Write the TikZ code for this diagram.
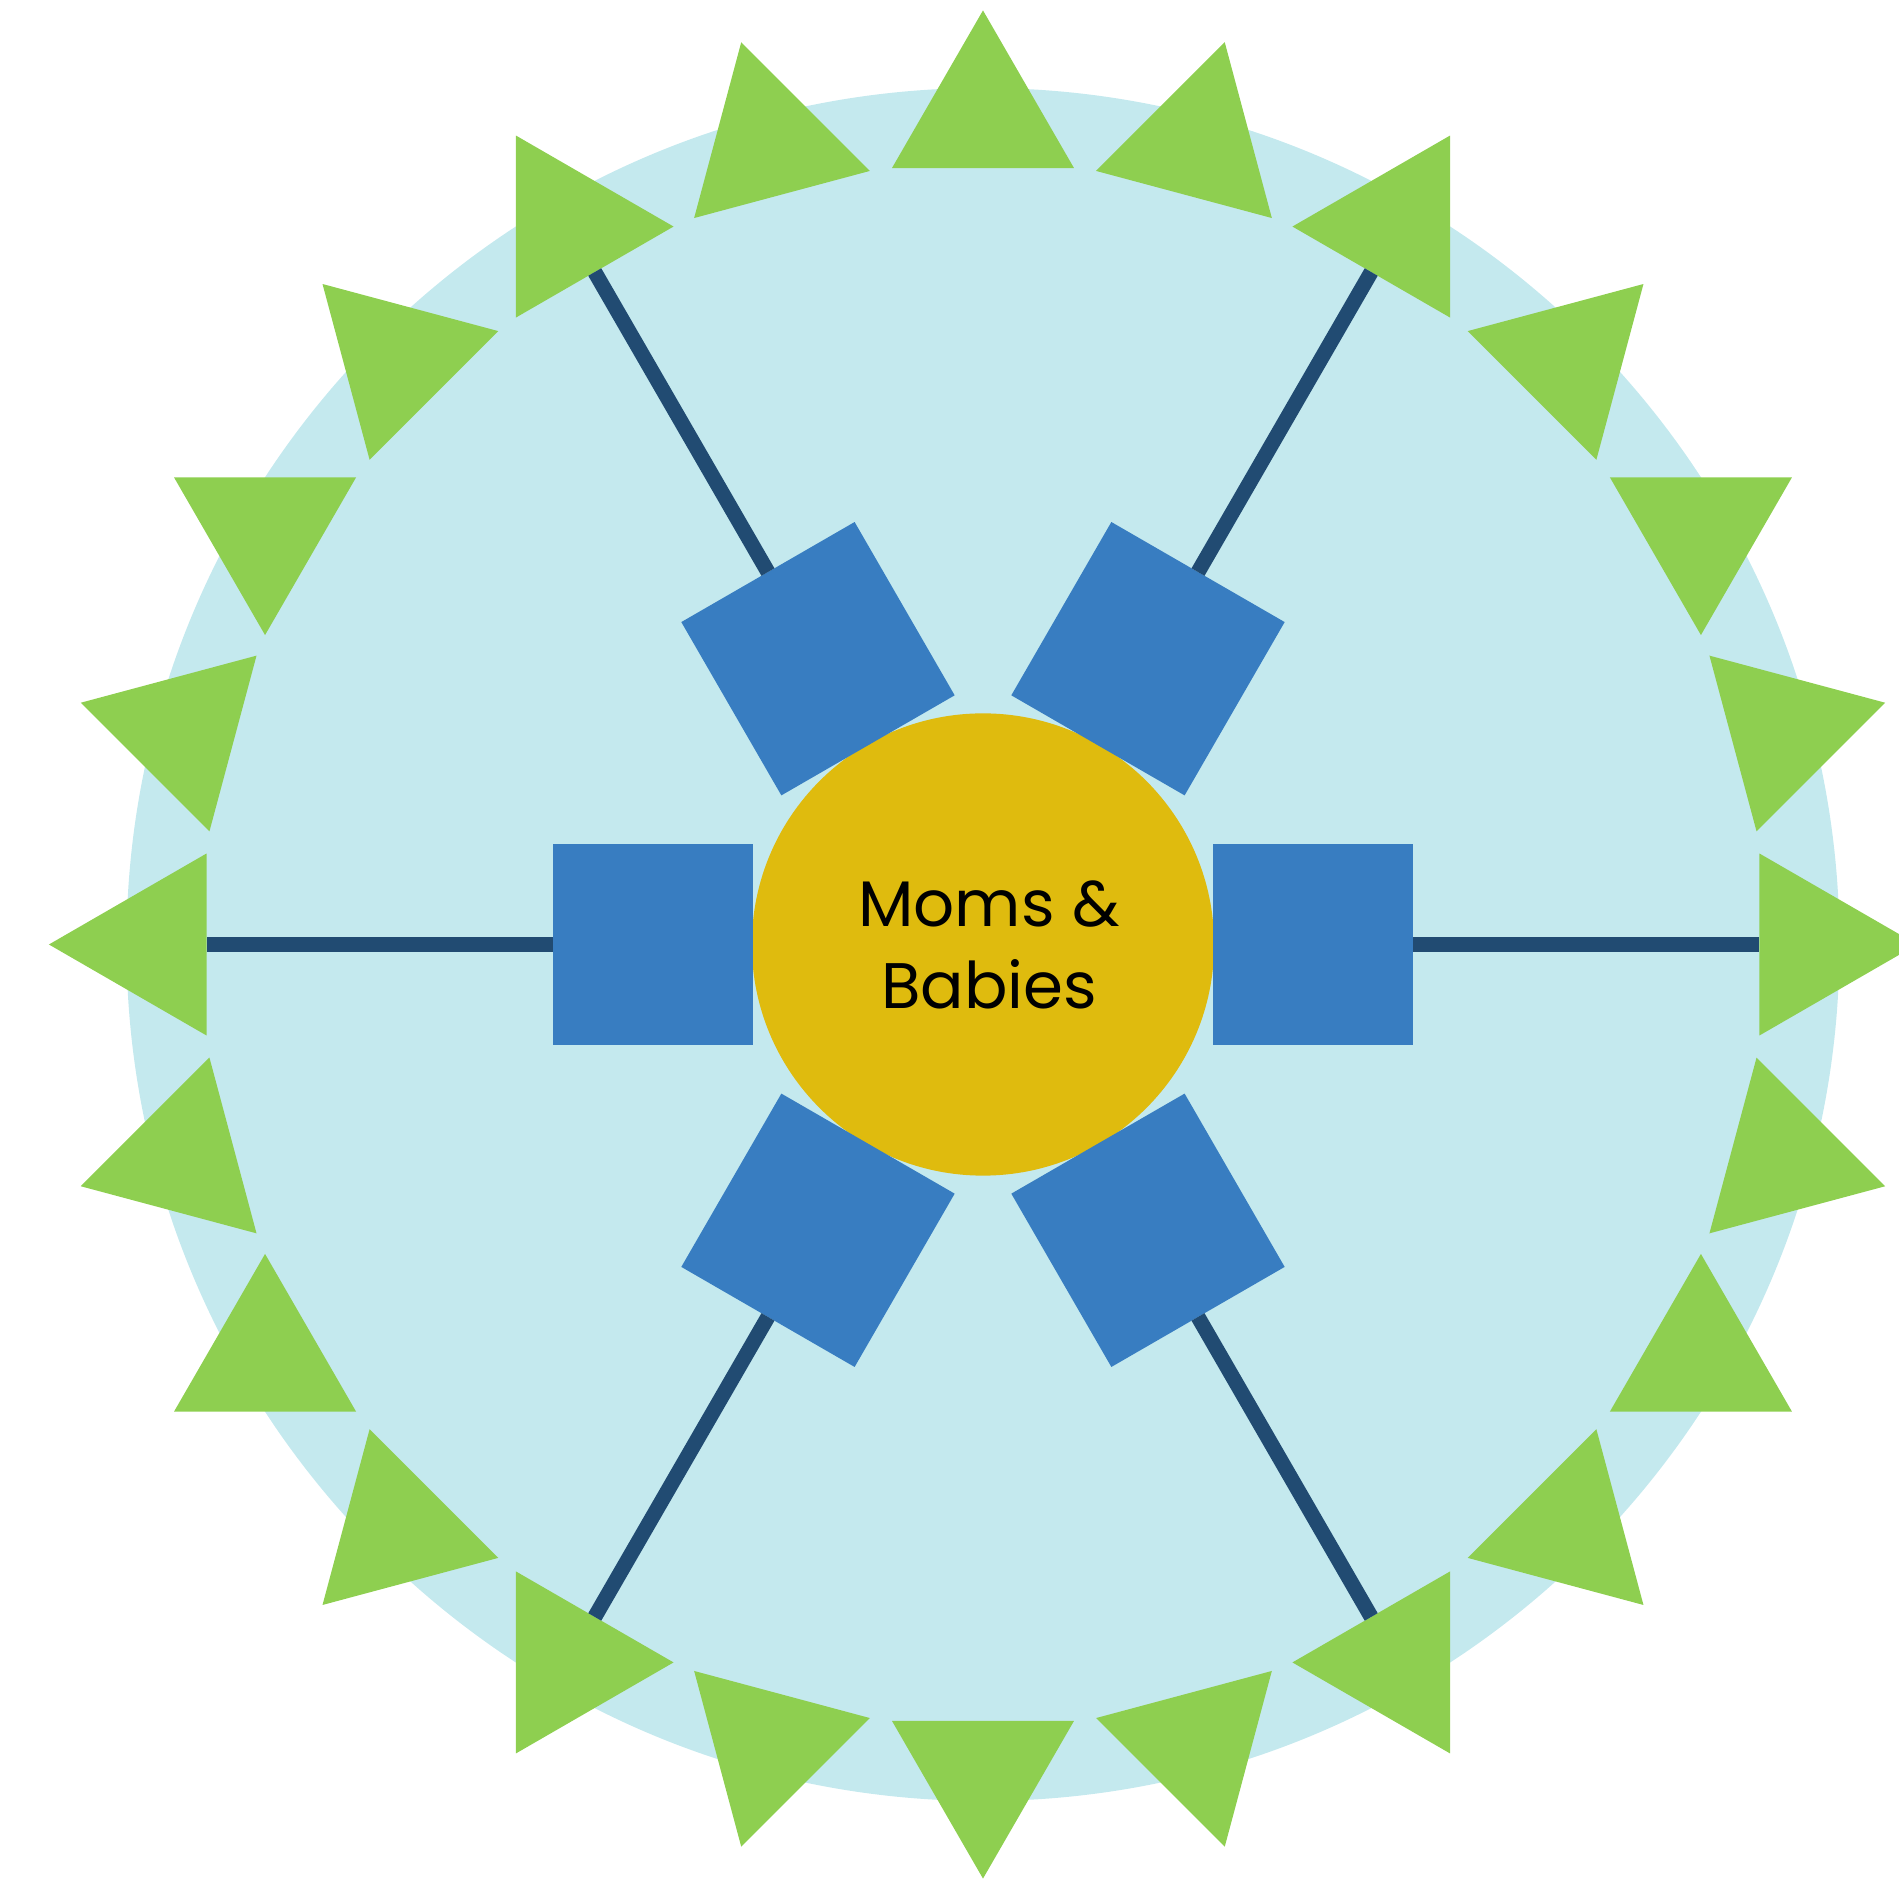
\documentclass[tikz,border=0pt]{standalone}
\usepackage{fontspec}
\newfontfamily\poppins{Poppins}
\usetikzlibrary{shapes.geometric}
\definecolor{cSky}   {RGB}{196,233,238}
\definecolor{cLeaf}  {RGB}{142,207,80}
\definecolor{cPetal} {RGB}{56,125,193}
\definecolor{cSun}   {RGB}{223,187,14}
\definecolor{cSpoke} {RGB}{33,75,114}

\begin{document}
\begin{tikzpicture}[
  x=0.01cm, y=0.01cm,
  % ── round shapes
  ground/.style={circle, fill=cSky, minimum size=17.12cm, inner sep=0pt},
  hubst/.style ={circle, fill=cSun, minimum size=4.62cm, inner sep=0pt},
  % ── squares round the hub
  petal/.style={
    rectangle, fill=cPetal, minimum size=2cm,
    inner sep=0pt, outer sep=0pt
  },
  % ── triangles on the rim
  spike/.style={
    regular polygon, regular polygon sides=3, fill=cLeaf,
    minimum size=2.1cm, inner sep=0pt, outer sep=0pt
  },
  % ── connectors
  spoke/.style={draw=cSpoke, line width=0.15cm},
  title/.style={font=\poppins\fontsize{18.3}{23.3}\selectfont, align=center, text=black},
]

\clip (-983,-934.5) rectangle (916,944.5);

%% ═══════════════════════════════════════════════════════════════════════════
%%  DISC, HUB AND SQUARES
%% ═══════════════════════════════════════════════════════════════════════════

\node[ground] (disc) at (0,0) {};
\node[hubst]  (hub)  at (0,0) {};

\foreach \a in {0,60,...,300}
  \node[petal, rotate=\a] (petal\a) at (\a:330) {};

\node[title] (label) at (6,0) {Moms \&\\Babies};

%% ═══════════════════════════════════════════════════════════════════════════
%%  RIM — 24 triangles, one every 15 degrees
%% ═══════════════════════════════════════════════════════════════════════════

\foreach \a in {0,15,...,345}
  \node[spike, rotate=\a-90] (spike\a) at (\a:829) {};

% spokes: each square out to its triangle
\foreach \a in {0,60,...,300}
  \draw[spoke] (petal\a) -- (spike\a);

\end{tikzpicture}
\end{document}
